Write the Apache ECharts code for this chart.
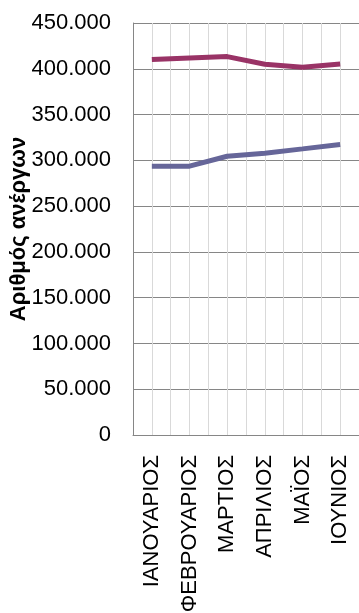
<!DOCTYPE html>
<html>
<head>
<meta charset="utf-8">
<script src="https://cdn.jsdelivr.net/npm/echarts@6/dist/echarts.min.js"></script>
<style>html,body{margin:0;padding:0;background:#fff}#c{width:359px;height:613px}</style>
</head>
<body>
<div id="c"></div>
<script>
const categories = ['ΙΑΝΟΥΑΡΙΟΣ', 'ΦΕΒΡΟΥΑΡΙΟΣ', 'ΜΑΡΤΙΟΣ', 'ΑΠΡΙΛΙΟΣ', 'ΜΑΪΟΣ', 'ΙΟΥΝΙΟΣ'];
const seriesTop = [410000, 411800, 413300, 404900, 401600, 405200];
const seriesBottom = [293600, 293600, 304500, 307800, 312500, 317300];
const yAxisName = 'Αριθμός ανέργων';

function fmt(v) {
  return String(Math.round(v)).replace(/\B(?=(\d{3})+(?!\d))/g, '.');
}

const chart = echarts.init(document.getElementById('c'), null, {renderer: 'canvas'});
chart.setOption({
  animation: false,
  backgroundColor: '#ffffff',
  textStyle: {fontFamily: 'Liberation Sans'},
  grid: {left: 133, right: 0, top: 23, bottom: 178, containLabel: false, outerBoundsMode: 'none'},
  xAxis: [{
    type: 'category',
    data: categories,
    boundaryGap: true,
    axisLine: {show: true, lineStyle: {color: '#868686', width: 1}},
    axisTick: {show: false},
    splitLine: {show: false},
    axisLabel: {rotate: 90, margin: 20, fontSize: 22, color: '#000', fontFamily: 'Liberation Sans', interval: 0}
  }, {
    type: 'value',
    min: 0, max: 12, interval: 1,
    show: true,
    position: 'bottom',
    axisLine: {show: false},
    axisTick: {show: false},
    axisLabel: {show: false},
    splitLine: {show: true, lineStyle: {color: '#d9d9d9', width: 1}}
  }],
  yAxis: {
    type: 'value',
    min: 0, max: 450000, interval: 50000,
    name: yAxisName,
    nameLocation: 'middle',
    nameGap: 103,
    nameRotate: 90,
    nameMoveOverlap: false,
    nameTextStyle: {fontSize: 22, fontWeight: 'bold', color: '#000', fontFamily: 'Liberation Sans'},
    axisLine: {show: true, lineStyle: {color: '#868686', width: 1}},
    axisTick: {show: false},
    axisLabel: {margin: 22, fontSize: 22, color: '#000', fontFamily: 'Liberation Sans', formatter: fmt},
    splitLine: {show: true, lineStyle: {color: '#868686', width: 1}}
  },
  series: [{
    type: 'line',
    data: seriesTop,
    xAxisIndex: 0,
    symbol: 'none',
    lineStyle: {color: '#993366', width: 5},
    z: 3
  }, {
    type: 'line',
    data: seriesBottom,
    xAxisIndex: 0,
    symbol: 'none',
    lineStyle: {color: '#666699', width: 5},
    z: 3
  }]
});
</script>
</body>
</html>
